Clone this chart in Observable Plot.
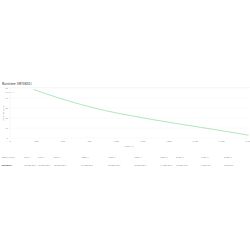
<!DOCTYPE html>
<html><head><meta charset="utf-8">
<script src="https://cdn.jsdelivr.net/npm/d3@7"></script>
<script src="https://cdn.jsdelivr.net/npm/@observablehq/plot@0.6"></script>
<style>
html,body{margin:0;padding:0;background:#fff;overflow:hidden;}
#wrap{width:1000px;height:1000px;transform:scale(0.25);transform-origin:0 0;font-family:"Open Sans",sans-serif;color:#444;position:relative;}
#title{position:absolute;left:8px;top:326px;font-size:13px;font-weight:600;color:#555;}
#sep{position:absolute;left:0;top:348px;width:1000px;border-top:1px solid #e6e6e6;}
#sub{position:absolute;left:20px;top:360px;font-size:9px;color:#bbb;}
#chart{position:absolute;left:0;top:340px;}
#tbl{position:absolute;left:6px;top:610px;border-collapse:collapse;font-size:9px;color:#777;}
#tbl td{padding:0;height:32px;white-space:nowrap;vertical-align:middle;}
#tbl tr.r td:first-child{font-weight:700;color:#444;}
</style></head><body>
<div id="wrap">
<div id="title">Runtime: SRT3KXLI</div>
<div id="sep"></div>
<div id="sub">SRT3KXLI</div>
<div id="chart"></div>
<table id="tbl"></table>
</div>
<script>
const modelName = "SRT3KXLI";
const loads = [270, 540, 810, 1080, 1350, 1620, 1890, 2160, 2430, 2700];
const runtimes = [48.5, 40.5, 33.5, 27.5, 22.8, 18.5, 14.6, 10.8, 7.0, 3.0];
const xTicks = [0, 300, 600, 900, 1200, 1500, 1800, 2100, 2400, 2700];
const yTicks = [0, 10, 20, 30, 40, 50];
const headerLabel = "Load (Watts)";

const data = loads.map((l, i) => ({load: l, runtime: runtimes[i]}));
const chart = Plot.plot({
  width: 1000, height: 260,
  marginLeft: 40, marginRight: 8, marginTop: 12, marginBottom: 48,
  style: {fontSize: "9px", color: "#888", fontFamily: "Open Sans, sans-serif", background: "transparent"},
  x: {domain: [0, 2700], ticks: xTicks, label: "Load (W)", labelAnchor: "center", labelArrow: "none", labelOffset: 34, grid: false, tickSize: 0},
  y: {domain: [0, 50], ticks: yTicks, label: "Runtime (min)", labelAnchor: "center", labelArrow: "none", labelOffset: 30, tickSize: 0},
  marks: [
    Plot.gridY(yTicks, {stroke: "#ddd", strokeOpacity: 0.5}),
    Plot.ruleX([0], {stroke: "#ddd"}),
    Plot.line(data, {x: "load", y: "runtime", stroke: "#95dda6", strokeWidth: 3, curve: "natural"})
  ]
});
document.getElementById("chart").appendChild(chart);

const colW = [90, 56, 64, 108, 108, 104, 104, 64, 100, 92];
const fmt = m => { const mm = Math.floor(m), ss = Math.round((m - mm) * 60); return mm + " min " + ss + " s"; };
const tbl = document.getElementById("tbl");
const h = tbl.insertRow();
const c0 = h.insertCell(); c0.textContent = headerLabel; c0.style.width = colW[0] + "px";
loads.forEach((l, i) => { const c = h.insertCell(); c.textContent = l + " W"; c.style.width = (colW[i+1] || 90) + "px"; });
const r = tbl.insertRow(); r.className = "r";
r.insertCell().textContent = modelName;
runtimes.forEach(v => { r.insertCell().textContent = fmt(v); });
</script>
</body></html>
